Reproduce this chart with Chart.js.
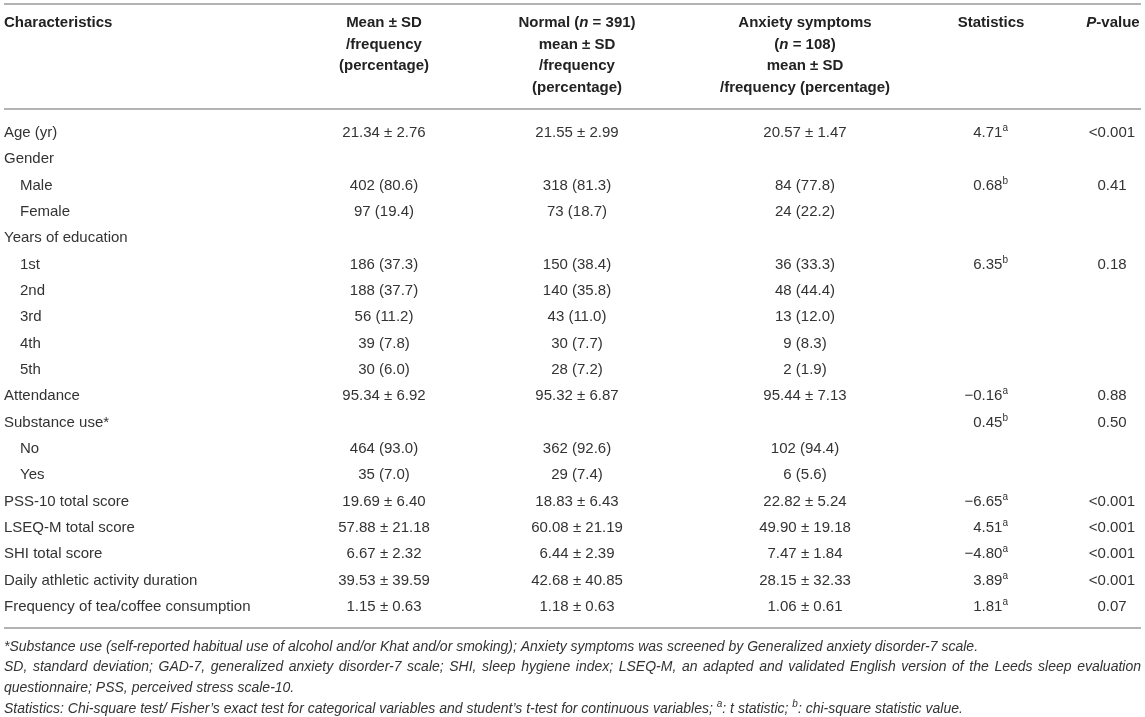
<!DOCTYPE html>
<html>
<head>
<meta charset="utf-8">
<script src="https://cdn.jsdelivr.net/npm/chart.js@4.4.1/dist/chart.umd.min.js"></script>
<style>
  html, body { margin: 0; padding: 0; background: #fff; }
  canvas { display: block; }
</style>
</head>
<body>
<canvas id="tbl" width="1145" height="717"></canvas>
<script>
// ---- table data ----
const characteristics = [
  "Age (yr)", "Gender", "Male", "Female", "Years of education",
  "1st", "2nd", "3rd", "4th", "5th", "Attendance", "Substance use*",
  "No", "Yes", "PSS-10 total score", "LSEQ-M total score", "SHI total score",
  "Daily athletic activity duration", "Frequency of tea/coffee consumption"
];
const rowLevel = [0, 0, 1, 1, 0, 1, 1, 1, 1, 1, 0, 0, 1, 1, 0, 0, 0, 0, 0];

const meanSd = [
  "21.34 ± 2.76", "", "402 (80.6)", "97 (19.4)", "",
  "186 (37.3)", "188 (37.7)", "56 (11.2)", "39 (7.8)", "30 (6.0)",
  "95.34 ± 6.92", "", "464 (93.0)", "35 (7.0)", "19.69 ± 6.40",
  "57.88 ± 21.18", "6.67 ± 2.32", "39.53 ± 39.59", "1.15 ± 0.63"
];
const normalGroup = [
  "21.55 ± 2.99", "", "318 (81.3)", "73 (18.7)", "",
  "150 (38.4)", "140 (35.8)", "43 (11.0)", "30 (7.7)", "28 (7.2)",
  "95.32 ± 6.87", "", "362 (92.6)", "29 (7.4)", "18.83 ± 6.43",
  "60.08 ± 21.19", "6.44 ± 2.39", "42.68 ± 40.85", "1.18 ± 0.63"
];
const anxietyGroup = [
  "20.57 ± 1.47", "", "84 (77.8)", "24 (22.2)", "",
  "36 (33.3)", "48 (44.4)", "13 (12.0)", "9 (8.3)", "2 (1.9)",
  "95.44 ± 7.13", "", "102 (94.4)", "6 (5.6)", "22.82 ± 5.24",
  "49.90 ± 19.18", "7.47 ± 1.84", "28.15 ± 32.33", "1.06 ± 0.61"
];
const statistic = [
  "4.71", "", "0.68", "", "", "6.35", "", "", "", "",
  "−0.16", "0.45", "", "", "−6.65", "4.51", "−4.80", "3.89", "1.81"
];
const statNote = [
  "a", "", "b", "", "", "b", "", "", "", "",
  "a", "b", "", "", "a", "a", "a", "a", "a"
];
const pValue = [
  "<0.001", "", "0.41", "", "", "0.18", "", "", "", "",
  "0.88", "0.50", "", "", "<0.001", "<0.001", "<0.001", "<0.001", "0.07"
];

const headerMean = ["Mean ± SD", "/frequency", "(percentage)"];
const headerNormal = ["Normal (_n_ = 391)", "mean ± SD", "/frequency", "(percentage)"];
const headerAnxiety = ["Anxiety symptoms", "(_n_ = 108)", "mean ± SD", "/frequency (percentage)"];

const footnotes = [
  "*Substance use (self-reported habitual use of alcohol and/or Khat and/or smoking); Anxiety symptoms was screened by Generalized anxiety disorder-7 scale.",
  "SD, standard deviation; GAD-7, generalized anxiety disorder-7 scale; SHI, sleep hygiene index; LSEQ-M, an adapted and validated English version of the Leeds sleep evaluation",
  "questionnaire; PSS, perceived stress scale-10.",
  "Statistics: Chi-square test/ Fisher’s exact test for categorical variables and student’s t-test for continuous variables; ^a: t statistic; ^b: chi-square statistic value."
];

// ---- layout / style ----
const FONT = '"Liberation Sans", Arial, Helvetica, sans-serif';
const BODY = { size: 15, bold: false, italic: false, color: '#333' };
const HEAD = { size: 15, bold: true, italic: false, color: '#222' };
const NOTE = { size: 14, bold: false, italic: true, color: '#333' };
const RULE_COLOR = '#b3b3b3';

// column anchors on the x scale (page units), with alignment
const colLayout = {
  char:    { x: 4,    align: 'left',   head: 4,    headAlign: 'left' },
  mean:    { x: 384,  align: 'center', head: 384,  headAlign: 'center' },
  normal:  { x: 577,  align: 'center', head: 577,  headAlign: 'center' },
  anxiety: { x: 805,  align: 'center', head: 805,  headAlign: 'center' },
  stat:    { x: 1008, align: 'right',  head: 991,  headAlign: 'center' },
  p:       { x: 1112, align: 'center', head: 1113, headAlign: 'center' }
};

function font(size, bold, italic) {
  return (italic ? 'italic ' : '') + (bold ? 'bold ' : '') + size + 'px ' + FONT;
}

// "_x_" -> italic, "^x" -> superscript
function parseRich(str) {
  return str.split(/(_[^_]+_|\^[a-z])/).filter(s => s).map(s => {
    if (s[0] === '_' && s.length > 2) return { t: s.slice(1, -1), italic: true };
    if (s[0] === '^') return { t: s.slice(1), sup: true };
    return { t: s };
  });
}

function measureRich(ctx, segs, base) {
  return segs.map(s => {
    const size = s.sup ? Math.round(base.size * 0.68) : base.size;
    const f = font(size, base.bold, base.italic || s.italic);
    ctx.font = f;
    return { t: s.t, f, w: ctx.measureText(s.t).width, dy: s.sup ? -base.size * 0.32 : 0 };
  });
}

function drawRich(ctx, str, x, y, align, base) {
  const parts = measureRich(ctx, parseRich(str), base);
  const total = parts.reduce((a, p) => a + p.w, 0);
  let cx = align === 'center' ? x - total / 2 : align === 'right' ? x - total : x;
  ctx.textAlign = 'left';
  ctx.textBaseline = 'middle';
  ctx.fillStyle = base.color;
  parts.forEach(p => { ctx.font = p.f; ctx.fillText(p.t, cx, y + p.dy); cx += p.w; });
}

// spread words so the line fills the width
function drawJustified(ctx, str, x0, x1, y, base) {
  ctx.font = font(base.size, base.bold, base.italic);
  ctx.textAlign = 'left';
  ctx.textBaseline = 'middle';
  ctx.fillStyle = base.color;
  const words = str.split(' ');
  const widths = words.map(w => ctx.measureText(w).width);
  const gap = (x1 - x0 - widths.reduce((a, b) => a + b, 0)) / (words.length - 1);
  let cx = x0;
  words.forEach((w, i) => { ctx.fillText(w, cx, y); cx += widths[i] + gap; });
}

const statCells = statistic.map((v, i) => v ? v + (statNote[i] ? '^' + statNote[i] : '') : '');

const columns = [
  { key: 'char', cells: characteristics, header: ["Characteristics"] },
  { key: 'mean', cells: meanSd, header: headerMean },
  { key: 'normal', cells: normalGroup, header: headerNormal },
  { key: 'anxiety', cells: anxietyGroup, header: headerAnxiety },
  { key: 'stat', cells: statCells, header: ["Statistics"] },
  { key: 'p', cells: pValue, header: ["_P_-value"] }
];

const tablePlugin = {
  id: 'tableText',
  afterDraw(chart) {
    const { ctx, scales } = chart;
    const xs = scales.x, ys = scales.y;
    const firstRow = ys.getPixelForValue(0);
    const lastRow = ys.getPixelForValue(characteristics.length - 1);
    const left = xs.getPixelForValue(4), right = xs.getPixelForValue(1141);

    ctx.save();
    // horizontal rules
    ctx.strokeStyle = RULE_COLOR;
    ctx.lineWidth = 2;
    [firstRow - 129, firstRow - 24, lastRow + 21].forEach(yy => {
      ctx.beginPath(); ctx.moveTo(left, yy); ctx.lineTo(right, yy); ctx.stroke();
    });

    // header
    const headTop = firstRow - 110;
    columns.forEach(c => {
      const lay = colLayout[c.key];
      c.header.forEach((line, k) => {
        drawRich(ctx, line, xs.getPixelForValue(lay.head), headTop + k * 21.5, lay.headAlign, HEAD);
      });
    });

    // body cells, placed at the dataset points
    chart.data.datasets.forEach((ds, di) => {
      const meta = chart.getDatasetMeta(di);
      meta.data.forEach((el, i) => {
        const txt = ds.cells[i];
        if (!txt) return;
        const indent = ds.key === 'char' ? rowLevel[i] * 16 : 0;
        drawRich(ctx, txt, el.x + indent, el.y, ds.align, BODY);
      });
    });

    // footnotes
    const noteTop = lastRow + 40;
    footnotes.forEach((line, k) => {
      const yy = noteTop + k * 20.6;
      if (k === 1) drawJustified(ctx, line, left, right, yy, NOTE);
      else drawRich(ctx, line, left, yy, 'left', NOTE);
    });
    ctx.restore();
  }
};

new Chart(document.getElementById('tbl'), {
  type: 'scatter',
  data: {
    datasets: columns.map(c => ({
      key: c.key,
      label: c.key,
      cells: c.cells,
      align: colLayout[c.key].align,
      data: c.cells.map((v, i) => ({ x: colLayout[c.key].x, y: i })),
      pointRadius: 0,
      pointHoverRadius: 0,
      clip: false
    }))
  },
  options: {
    responsive: false,
    animation: false,
    events: [],
    layout: { padding: { top: 133, bottom: 110, left: 0, right: 0 } },
    plugins: { legend: { display: false }, tooltip: { enabled: false } },
    scales: {
      x: { type: 'linear', min: 0, max: 1145, display: false },
      y: { type: 'category', labels: characteristics, offset: false, display: false }
    }
  },
  plugins: [tablePlugin]
});
</script>
</body>
</html>
